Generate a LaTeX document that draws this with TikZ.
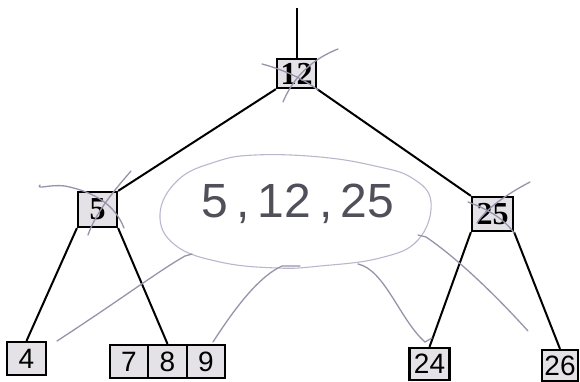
\documentclass[tikz,border=0pt]{standalone}
\usepackage{fontspec}
\setmainfont{Liberation Serif}
\newfontfamily\leaffont{Liberation Sans}
\newfontfamily\handfont{Liberation Sans}
\definecolor{boxfill}{RGB}{228,226,230}
\definecolor{pencil}{RGB}{150,148,170}
\definecolor{pencillight}{RGB}{185,183,205}
\definecolor{pencildark}{RGB}{80,80,90}
\tikzset{
  x=1pt, y=-1pt,
  keybox/.style={draw=black, line width=2.2pt, fill=boxfill, inner sep=0pt, font=\bfseries\fontsize{32}{32}\selectfont},
  leafbox/.style={keybox, font=\leaffont\fontsize{28}{28}\selectfont},
  treeedge/.style={draw=black, line width=2pt},
  pencilline/.style={draw=pencil, line width=1.3pt, line cap=round},
}
\begin{document}
\begin{tikzpicture}
\useasboundingbox (0,0) rectangle (580,381);
% nodes
\node[keybox, minimum width=39pt, minimum height=29pt] (n12) at (296.5,73.5) {12};
\node[keybox, minimum width=39pt, minimum height=35pt] (n5) at (97.5,209.5) {5};
\node[keybox, minimum width=41pt, minimum height=34pt] (n25) at (492.5,214) {25};
\node[leafbox, minimum width=39pt, minimum height=33pt] (n4) at (26.5,358.5) {4};
\node[leafbox, minimum width=38.5pt, minimum height=33pt] (n7) at (129,361.5) {7};
\node[leafbox, minimum width=38.5pt, minimum height=33pt] (n8) at (167.5,361.5) {8};
\node[leafbox, minimum width=38.5pt, minimum height=33pt] (n9) at (206,361.5) {9};
\node[leafbox, minimum width=40pt, minimum height=32pt] (n24) at (429.5,364) {24};
\node[leafbox, minimum width=36pt, minimum height=31pt] (n26) at (560,365.5) {26};
\coordinate (top) at (296.5,8);
% edges
\draw[treeedge] (top) -- (n12.north);
\draw[treeedge] (n12.south west) -- (n5.north east);
\draw[treeedge] (n12.south east) -- (n25.north west);
\draw[treeedge] (n5.south west) -- (n4.north);
\draw[treeedge] (n5.south east) -- (n8.north);
\draw[treeedge] (n25.south west) -- (n24.north);
\draw[treeedge] (n25.south east) -- (n26.north);
% pencil ellipse and text
\draw[pencillight, line width=1.1pt] plot[smooth cycle, tension=0.7] coordinates {
  (160,214) (178,180) (215,162) (255,155) (320,157) (375,166) (412,178)
  (431,202) (418,240) (380,258) (320,266) (277,268) (220,262) (175,245)};
\node[text=pencildark, font=\handfont\fontsize{48}{48}\selectfont] (hand) at (298,204) {5\,,\,12\,,\,25};
% pencil strokes to leaves
\draw[pencilline] (57,341) .. controls (120,300) and (160,270) .. (185,256) -- (192,254);
\draw[pencilline] (213,342) .. controls (240,300) and (262,275) .. (282,266) -- (300,266);
\draw[pencilline] (358,264) .. controls (385,270) and (400,320) .. (425,342) -- (432,338);
\draw[pencilline] (418,235) -- (426,237) .. controls (460,260) and (500,300) .. (528,331);
% strike marks
\draw[pencilline] (262,64) .. controls (285,70) and (305,80) .. (318,90);
\draw[pencilline] (338,49) .. controls (305,62) and (290,85) .. (283,102);
\draw[pencilline] (40,185) .. controls (36,190) and (50,184) .. (65,186) .. controls (95,192) and (115,205) .. (124,228);
\draw[pencilline] (131,171) .. controls (110,195) and (95,215) .. (88,235);
\draw[pencilline] (530,182) .. controls (505,195) and (485,210) .. (477,223);
\draw[pencilline] (468,202) .. controls (490,210) and (505,220) .. (514,233);
\end{tikzpicture}
\end{document}
